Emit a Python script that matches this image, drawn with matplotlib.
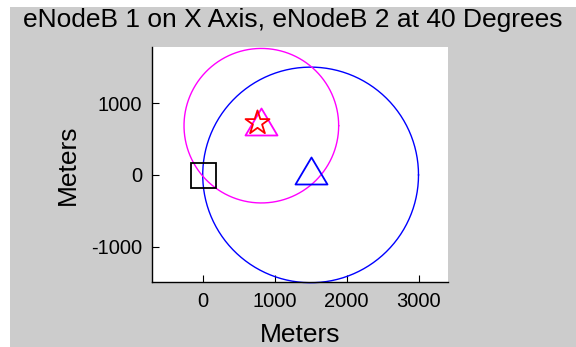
import numpy as np
import matplotlib.pyplot as plt
from matplotlib.patches import Rectangle
from matplotlib.path import Path

# positions in meters
ue_xy = [0, 0]
enb1_xy = [1500, 0]
enb2_xy = [815, 685]
enb1_range = 1500
enb2_range = 1075

xticks = [0, 1000, 2000, 3000]
yticks = [-1000, 0, 1000]

plt.rcParams['font.family'] = ['Liberation Sans', 'DejaVu Sans']
plt.rcParams['axes.unicode_minus'] = False

DPI = 100


def pixel_marker(verts_px):
    # custom marker from vertices given in pixels around the data point;
    # matplotlib rescales so max |v| -> ms/2, so return the matching size
    v = np.asarray(verts_px, dtype=float)
    m = np.abs(v).max()
    return Path(v / m, closed=True), 2 * m * 72 / DPI


def triangle(w, h):
    # centroid on the data point
    return pixel_marker([(0, 2 * h / 3), (-w / 2, -h / 3), (w / 2, -h / 3), (0, 2 * h / 3)])


def star(R, dx=0.0, dy=0.0):
    r = R * 0.382
    pts = []
    for k in range(5):
        a = np.radians(90 + 72 * k)
        b = a + np.radians(36)
        pts.append((dx + R * np.cos(a), dy + R * np.sin(a)))
        pts.append((dx + r * np.cos(b), dy + r * np.sin(b)))
    pts.append(pts[0])
    return pixel_marker(pts)


fig = plt.figure(figsize=(5.76, 3.47), dpi=DPI, facecolor='white')
# grey panel behind the plot
fig.patches.append(Rectangle((10 / 576, 0), 1, 1 - 7 / 347, transform=fig.transFigure,
                             facecolor='#cccccc', edgecolor='none', zorder=-1))

ax = fig.add_axes([152 / 576, 65 / 347, 296 / 576, 235 / 347])
ax.set_facecolor('white')

# range circles around each eNodeB
t = np.linspace(0, 2 * np.pi, 120)
ax.plot(enb1_xy[0] + enb1_range * np.cos(t), enb1_xy[1] + enb1_range * np.sin(t),
        color='blue', lw=1.0, clip_on=False)
ax.plot(enb2_xy[0] + enb2_range * np.cos(t), enb2_xy[1] + enb2_range * np.sin(t),
        color='magenta', lw=1.0, clip_on=False)

tri_path, tri_ms = triangle(32, 27)
star_path, star_ms = star(12.6, dx=-4, dy=3.5)

ax.plot(ue_xy[0], ue_xy[1], marker='s', ms=18, mfc='none', mec='black', mew=1.3)
ax.plot(enb1_xy[0], enb1_xy[1], marker=tri_path, ms=tri_ms, mfc='none', mec='blue', mew=1.3)
ax.plot(enb2_xy[0], enb2_xy[1], marker=tri_path, ms=tri_ms, mfc='none', mec='#ff00ff', mew=1.3)
ax.plot(enb2_xy[0], enb2_xy[1], marker=star_path, ms=star_ms, mfc='none', mec='red', mew=1.3)

ax.set_xlim(-705, 3410)
ax.set_ylim(-1490, 1780)
ax.set_xticks(xticks)
ax.set_yticks(yticks)
ax.tick_params(direction='in', length=5, labelsize=14.5, width=0.8)
ax.tick_params(axis='x', pad=7)
ax.tick_params(axis='y', pad=7)
for s in ['top', 'right']:
    ax.spines[s].set_visible(False)
for s in ['left', 'bottom']:
    ax.spines[s].set_linewidth(1.0)

ax.set_xlabel('Meters', fontsize=19, labelpad=9)
ax.set_ylabel('Meters', fontsize=19, labelpad=8)
fig.text(0.508, 0.942, 'eNodeB 1 on X Axis, eNodeB 2 at 40 Degrees', fontsize=19,
         ha='center', va='center')

fig.savefig('out.png', dpi=DPI, facecolor=fig.get_facecolor())
